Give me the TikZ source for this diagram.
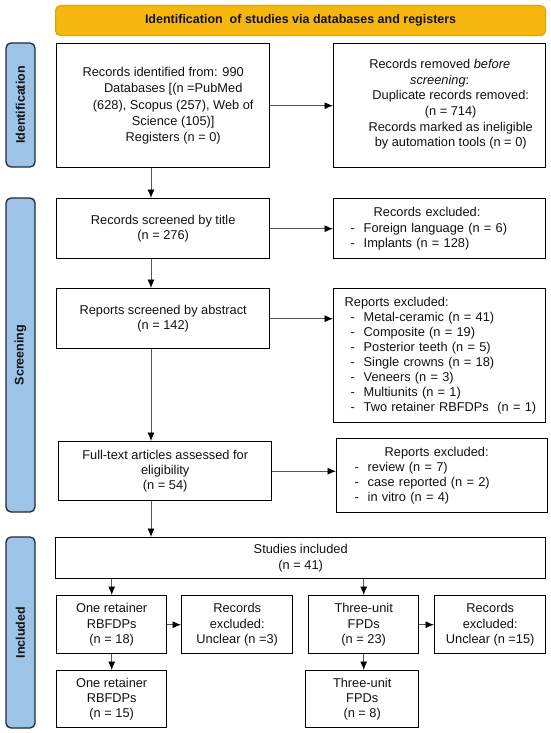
\documentclass[tikz,border=0pt]{standalone}
\usepackage{fontspec}
\setmainfont{Liberation Sans}
\usetikzlibrary{arrows.meta}
\definecolor{bannerfill}{HTML}{F6B80F}
\definecolor{bannerdraw}{HTML}{E0A200}
\definecolor{sidefill}{HTML}{9DC3E6}
\definecolor{sidedraw}{HTML}{1E2A36}
\definecolor{arrowgray}{HTML}{555555}
\definecolor{txt}{HTML}{111111}
\newcommand{\dashitem}[2][17pt]{\hspace*{#1}\makebox[13pt][l]{-}#2}
\begin{document}
\begin{tikzpicture}[x=1pt,y=-1pt,
  box/.style={draw=black,line width=1.4pt,anchor=north west,inner sep=0pt,align=center,text=txt,
    font=\fontsize{12.8}{15.4}\selectfont},
  bigbox/.style={box,font=\fontsize{12.8}{16.3}\selectfont},
  listbox/.style={box,align=left,font=\fontsize{12.8}{15.1}\selectfont},
  side/.style={draw=sidedraw,fill=sidefill,line width=1.3pt,rounded corners=5pt,inner sep=0pt,
    rotate=90,text=txt,font=\fontsize{12.5}{15}\selectfont\bfseries},
  banner/.style={draw=bannerdraw,fill=bannerfill,line width=1.2pt,rounded corners=5pt,anchor=north west,
    inner sep=0pt,text=txt,font=\fontsize{12.5}{15}\selectfont\bfseries},
  arr/.style={draw=arrowgray,line width=0.8pt,-{Latex[length=8.5pt,width=7pt,fill=black,color=black]}},
]
\useasboundingbox (0,0) rectangle (550,733);

% banner
\node[banner,minimum width=490pt,minimum height=30pt] (ban) at (55,5) {Identification\ \ of studies via databases and registers};

% side labels
\node[side,minimum width=124pt,minimum height=29pt] (lid) at (20.5,105) {Identification};
\node[side,minimum width=314pt,minimum height=29pt] (lsc) at (20.5,355) {Screening};
\node[side,minimum width=191pt,minimum height=29pt] (lin) at (20.5,632.5) {Included};

% identification
\node[bigbox,minimum width=213pt,minimum height=124pt] (id1) at (56,43)
  {Records identified from: 990\\\hspace*{20pt}Databases [(n =PubMed\\\hspace*{20pt}(628), Scopus (257), Web of\\\hspace*{20pt}Science (105)]\\\hspace*{20pt}Registers (n = 0)};
\node[bigbox,minimum width=212pt,minimum height=124pt,font=\fontsize{12.8}{15.6}\selectfont] (rid1) at (333,43)
  {\\[-9pt]Records removed \textit{before}\\\textit{screening}:\\\hspace*{22pt}Duplicate records removed:\\\hspace*{22pt}(n = 714)\\\hspace*{22pt}Records marked as ineligible\\\hspace*{22pt}by automation tools (n = 0)};

% screening
\node[box,minimum width=213pt,minimum height=60pt] (title) at (56,198)
  {Records screened by title\\(n = 276)};
\node[listbox,minimum width=212pt,minimum height=60pt,text width=212pt] (rtitle) at (333,198)
  {\hspace*{40pt}Records excluded:\\\dashitem{Foreign language (n = 6)}\\\dashitem{Implants (n = 128)}};

\node[box,minimum width=213pt,minimum height=60pt] (abs) at (56,288)
  {Reports screened by abstract\\(n = 142)};
\node[listbox,minimum width=212pt,minimum height=134pt,text width=212pt] (rabs) at (333,288)
  {\hspace*{11pt}Reports excluded:\\
   \dashitem{Metal-ceramic (n = 41)}\\
   \dashitem{Composite (n = 19)}\\
   \dashitem{Posterior teeth (n = 5)}\\
   \dashitem{Single crowns (n = 18)}\\
   \dashitem{Veneers (n = 3)}\\
   \dashitem{Multiunits (n = 1)}\\
   \dashitem{Two retainer RBFDPs\ \ (n = 1)}};

\node[box,minimum width=213pt,minimum height=59pt] (full) at (58,441)
  {Full-text articles assessed for\\eligibility\\(n = 54)};
\node[listbox,minimum width=211pt,minimum height=74pt,text width=211pt] (rfull) at (336,438)
  {\hspace*{48pt}Reports excluded:\\
   \dashitem[18pt]{review (n = 7)}\\
   \dashitem[18pt]{case reported (n = 2)}\\
   \dashitem[18pt]{in vitro (n = 4)}};

% included
\node[box,minimum width=490pt,minimum height=41pt] (stud) at (55,537)
  {Studies included\\(n = 41)};
\node[box,minimum width=110pt,minimum height=58pt] (r1) at (56,595) {One retainer\\RBFDPs\\(n = 18)};
\node[box,minimum width=111pt,minimum height=58pt] (r2) at (181,595) {Records\\excluded:\\Unclear (n =3)};
\node[box,minimum width=110pt,minimum height=58pt] (r3) at (308,595) {Three-unit\\FPDs\\(n = 23)};
\node[box,minimum width=111pt,minimum height=58pt] (r4) at (434,595) {Records\\excluded:\\Unclear (n =15)};
\node[box,minimum width=110pt,minimum height=57pt] (b1) at (56,670) {One retainer\\RBFDPs\\(n = 15)};
\node[box,minimum width=113pt,minimum height=57pt] (b3) at (305,670) {Three-unit\\FPDs\\(n = 8)};

% connectors
\coordinate (mx) at (151,0);
\draw[arr] (id1.south -| mx) -- (title.north -| mx);
\draw[arr] (title.south -| mx) -- (abs.north -| mx);
\draw[arr] (abs.south -| mx) -- (full.north -| mx);
\draw[arr] (full.south -| mx) -- (stud.north -| mx);

\draw[arr] (id1.east) -- (rid1.west |- id1.east);
\draw[arr] (title.east) -- (rtitle.west |- title.east);
\draw[arr] (abs.east) -- (rabs.west |- abs.east);
\draw[arr] (full.east) -- (rfull.west |- full.east);

\draw[arr] (stud.south -| r1.north) -- (r1.north);
\draw[arr] (stud.south -| r3.north) -- (r3.north);
\draw[arr] (r1.east) -- (r2.west);
\draw[arr] (r3.east) -- (r4.west);
\draw[arr] (r1.south) -- (r1.south |- b1.north);
\draw[arr] (r3.south) -- (r3.south |- b3.north);
\end{tikzpicture}
\end{document}
